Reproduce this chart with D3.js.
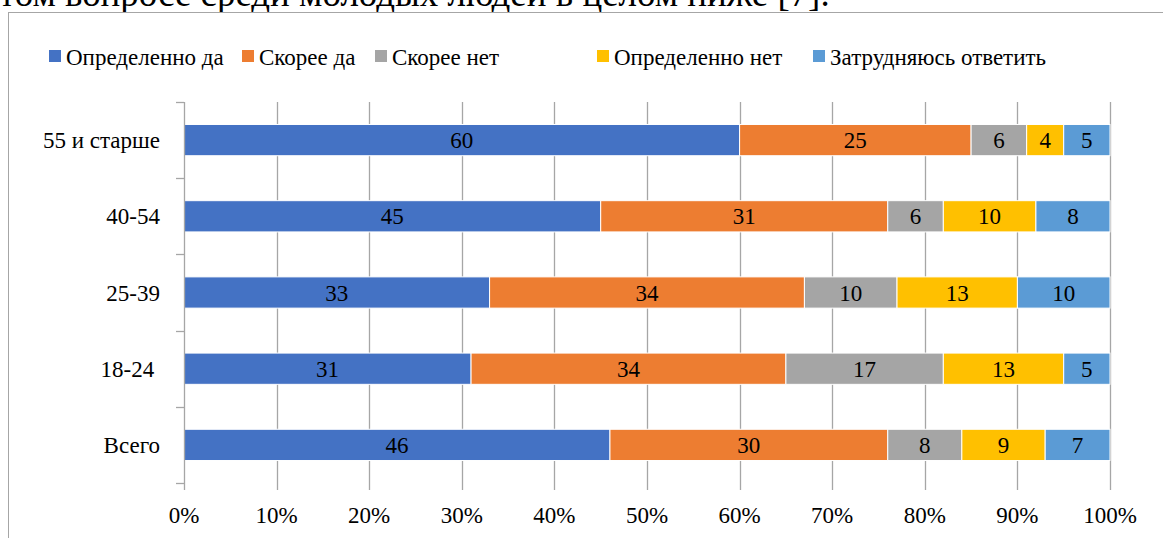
<!DOCTYPE html>
<html>
<head>
<meta charset="utf-8">
<script src="https://cdn.jsdelivr.net/npm/d3@7"></script>
</head>
<body style="margin:0">
<script>
// Data
var categories = ["55 и старше", "40-54", "25-39", "18-24 ", "Всего"];
var seriesNames = ["Определенно да", "Скорее да", "Скорее нет", "Определенно нет", "Затрудняюсь ответить"];
var definitelyYes = [60, 45, 33, 31, 46];
var ratherYes = [25, 31, 34, 34, 30];
var ratherNo = [6, 6, 10, 17, 8];
var definitelyNo = [4, 10, 13, 13, 9];
var hardToSay = [5, 8, 10, 5, 7];
var xTicks = [0, 10, 20, 30, 40, 50, 60, 70, 80, 90, 100];
var colors = ["#4472C4", "#ED7D31", "#A5A5A5", "#FFC000", "#5B9BD5"];

var fontFam = "'Liberation Serif'";

var svgWidth = 1163;
var svgHeight = 538;

var margin = { top: 102, right: 53, bottom: 55, left: 184 };
var chartWidth = svgWidth - margin.left - margin.right;
var chartHeight = svgHeight - margin.top - margin.bottom;

var svg = d3.select("body")
  .append("svg")
  .attr("width", svgWidth)
  .attr("height", svgHeight)
  .style("font-family", fontFam);

// page text above the chart (cut off at the top)
var pageText = svg.append("text")
  .attr("x", -1)
  .attr("y", 6)
  .style("font-family", fontFam)
  .attr("font-size", 29)
  .attr("fill", "#000")
  .text("том вопросе среди молодых людей в целом ниже [7].");
var w = pageText.node().getComputedTextLength();
pageText.attr("font-size", 29 * 831 / w);

// chart frame
svg.append("rect")
  .attr("x", 8.5)
  .attr("y", 12.5)
  .attr("width", svgWidth + 20)
  .attr("height", svgHeight + 20)
  .attr("fill", "#fff")
  .attr("stroke", "#a6a6a6")
  .attr("stroke-width", 1);

var rows = categories.map(function (c, i) {
  return {
    cat: c,
    values: [definitelyYes[i], ratherYes[i], ratherNo[i], definitelyNo[i], hardToSay[i]]
  };
});

var x = d3.scaleLinear().domain([0, 100]).range([0, chartWidth]);
var y = d3.scaleBand().domain(categories).range([0, chartHeight]).paddingInner(0.59).paddingOuter(0.295);

var chartGroup = svg.append("g")
  .attr("transform", "translate(" + margin.left + "," + margin.top + ")");

// gridlines
chartGroup.append("g")
  .selectAll("line")
  .data(xTicks.slice(1))
  .enter()
  .append("line")
  .attr("x1", d => Math.round(x(d)) + 0.5)
  .attr("x2", d => Math.round(x(d)) + 0.5)
  .attr("y1", 0)
  .attr("y2", chartHeight + 7)
  .attr("stroke", "#a6a6a6")
  .attr("stroke-width", 1.3);

// bars
rows.forEach(function (row) {
  var start = 0;
  row.values.forEach(function (v, j) {
    var g = chartGroup.append("g");
    g.append("rect")
      .attr("x", x(start))
      .attr("y", y(row.cat))
      .attr("width", x(v))
      .attr("height", y.bandwidth())
      .attr("fill", colors[j])
      .attr("stroke", "#fff")
      .attr("stroke-width", 1);
    g.append("text")
      .attr("x", x(start + v / 2))
      .attr("y", y(row.cat) + y.bandwidth() / 2 + 8)
      .attr("text-anchor", "middle")
      .style("font-family", fontFam)
      .attr("font-size", 23)
      .attr("fill", "#000")
      .text(v);
    start += v;
  });
});

// y axis (category)
var yAxisG = chartGroup.append("g");
yAxisG.append("line")
  .attr("x1", 0.5).attr("x2", 0.5)
  .attr("y1", 0).attr("y2", chartHeight + 7)
  .attr("stroke", "#a6a6a6")
  .attr("stroke-width", 1.3);
var step = y.step();
d3.range(categories.length + 1).forEach(function (i) {
  yAxisG.append("line")
    .attr("x1", -8).attr("x2", 0)
    .attr("y1", Math.round(i * step) + 0.5)
    .attr("y2", Math.round(i * step) + 0.5)
    .attr("stroke", "#a6a6a6")
    .attr("stroke-width", 1.3);
});
yAxisG.selectAll("text.cat")
  .data(categories)
  .enter()
  .append("text")
  .attr("class", "cat")
  .attr("x", -24)
  .attr("y", d => y(d) + y.bandwidth() / 2 + 8)
  .attr("text-anchor", "end")
  .style("font-family", fontFam)
  .attr("font-size", 23)
  .style("white-space", "pre")
  .text(d => d);

// x tick labels
chartGroup.selectAll("text.xt")
  .data(xTicks)
  .enter()
  .append("text")
  .attr("class", "xt")
  .attr("x", d => x(d))
  .attr("y", chartHeight + 40)
  .attr("text-anchor", "middle")
  .style("font-family", fontFam)
  .attr("font-size", 23)
  .text(d => d + "%");

// legend
var legendX = [49, 242, 375, 597, 813];
var legend = svg.append("g");
seriesNames.forEach(function (name, i) {
  legend.append("rect")
    .attr("x", legendX[i])
    .attr("y", 50)
    .attr("width", 12)
    .attr("height", 12)
    .attr("fill", colors[i]);
  legend.append("text")
    .attr("x", legendX[i] + 17)
    .attr("y", 65)
    .style("font-family", fontFam)
    .attr("font-size", 23)
    .text(name);
});
</script>
</body>
</html>
